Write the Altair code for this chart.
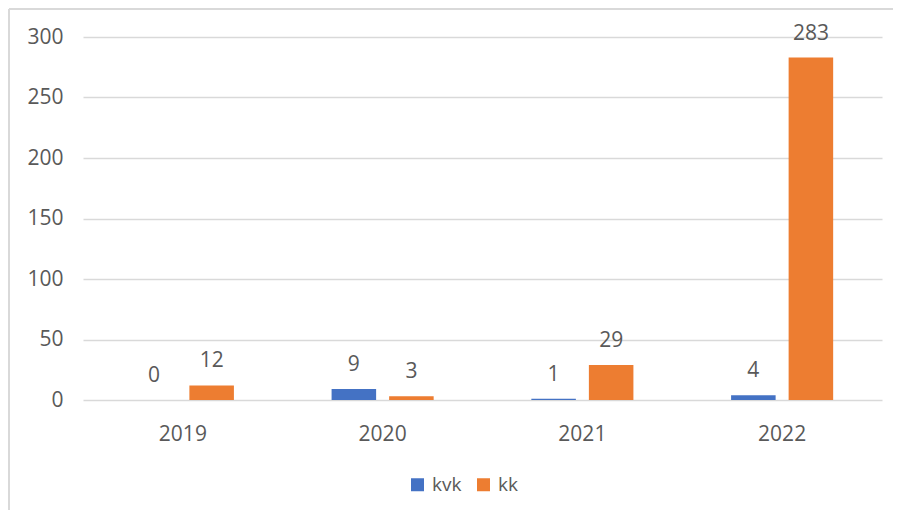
import altair as alt
import pandas as pd

years = ["2019", "2020", "2021", "2022"]
kvk = [0, 9, 1, 4]
kk = [12, 3, 29, 283]
series = ["kvk", "kk"]
colors = ["#4472C4", "#ED7D31"]
y_ticks = [0, 50, 100, 150, 200, 250, 300]

rows = []
for i, yr in enumerate(years):
    rows.append({"year": yr, "series": "kvk", "value": kvk[i]})
    rows.append({"year": yr, "series": "kk", "value": kk[i]})
df = pd.DataFrame(rows)

FONT = "Open Sans"
TXT = "#595959"
GRID = "#D9D9D9"

base = alt.Chart(df).encode(
    x=alt.X(
        "year:N", sort=years, title=None,
        scale=alt.Scale(paddingInner=0.489, paddingOuter=0.2445),
        axis=alt.Axis(labelAngle=0, domain=False, ticks=False, labelPadding=23,
                      labelFontSize=21, labelColor=TXT, labelFont=FONT, grid=False),
    ),
    xOffset=alt.XOffset("series:N", sort=series,
                        scale=alt.Scale(paddingInner=0.226, paddingOuter=0)),
    y=alt.Y(
        "value:Q", title=None,
        scale=alt.Scale(domain=[0, 300], nice=False),
        axis=alt.Axis(values=y_ticks, domain=False, ticks=False, labelPadding=20,
                      labelFontSize=21, labelColor=TXT, labelFont=FONT,
                      gridColor=GRID, gridWidth=1.5),
    ),
)

bars = base.mark_bar().encode(
    color=alt.Color(
        "series:N", sort=series,
        scale=alt.Scale(domain=series, range=colors),
        legend=alt.Legend(
            orient="none", legendX=325, legendY=438, direction="horizontal",
            title=None, symbolType="square", symbolSize=169, symbolStrokeWidth=0,
            labelFontSize=19, labelFont=FONT, labelColor=TXT,
            columnPadding=12, labelOffset=5,
        ),
    )
)

labels = base.mark_text(baseline="alphabetic", dy=-18, fontSize=21,
                        font=FONT, color=TXT).encode(text="value:Q")

one = pd.DataFrame({"k": [0]})
top_border = alt.Chart(one).mark_rule(color=GRID, strokeWidth=2).encode(
    x=alt.value(-74), x2=alt.value(812), y=alt.value(-28)
)
left_border = alt.Chart(one).mark_rule(color=GRID, strokeWidth=2).encode(
    x=alt.value(-74), y=alt.value(-28), y2=alt.value(480)
)

chart = alt.layer(bars, labels, top_border, left_border).properties(
    width=799, height=363,
    autosize=alt.AutoSizeParams(type="none"),
    padding={"left": 75, "top": 29, "right": 11, "bottom": 110},
).configure_view(stroke=None)

chart.save("out.html", embed_options={"renderer": "svg", "actions": False})
